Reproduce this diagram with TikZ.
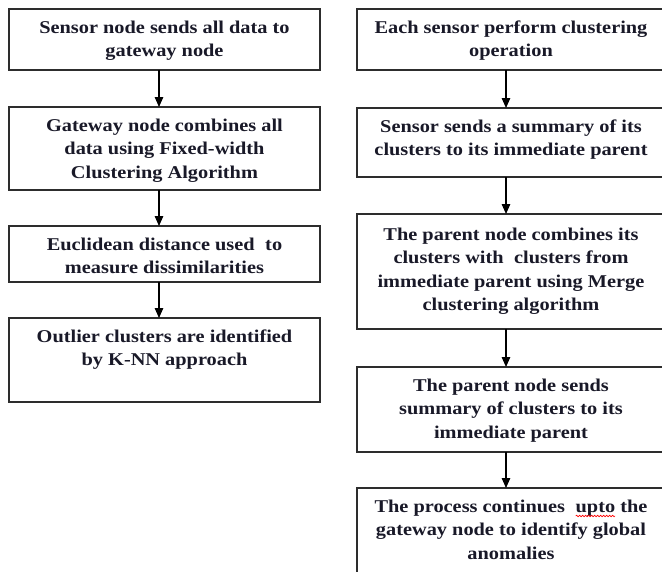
\documentclass[tikz,border=0pt]{standalone}
\usepackage{fontspec}
\setmainfont{Liberation Serif}[FakeStretch=1.13]
\usetikzlibrary{arrows.meta,calc,decorations.pathmorphing}
\definecolor{boxgray}{RGB}{45,45,45}
\definecolor{txtcol}{RGB}{25,25,40}
\newcommand{\dsp}{\hspace{0.3em}}
\newcommand{\boxfont}{\fontsize{18}{23.5}\selectfont\bfseries}
\newlength{\wline}\newlength{\wpre}\newlength{\wword}
\begin{document}
\settowidth{\wline}{\boxfont The process continues\dsp{} upto the}
\settowidth{\wpre}{\boxfont The process continues\dsp{} }
\settowidth{\wword}{\boxfont upto}
\begin{tikzpicture}[x=1pt,y=-1pt,
  box/.style={draw=boxgray, line width=1.5pt, inner sep=0pt, outer sep=0pt, rectangle},
  txt/.style={anchor=north, align=center, inner sep=0pt, text=txtcol, font=\boxfont},
  arr/.style={draw=black, line width=1.3pt, -{Triangle[length=10pt,width=8.5pt]}},
  wavy/.style={draw=red, line width=0.6pt, decorate, decoration={snake, amplitude=0.8pt, segment length=3pt}}]
\useasboundingbox (0,0) rectangle (662,571);
\clip (0,0) rectangle (662,571);
\fill[white] (0,0) rectangle (662,571);
\newcommand{\sr}{\rule{0pt}{13pt}}
% left column boxes
\node[box, minimum width=311pt, minimum height=61pt] (L1) at (164.5,39.5) {};
\node[box, minimum width=311pt, minimum height=83pt] (L2) at (164.5,148.5) {};
\node[box, minimum width=311pt, minimum height=56pt] (L3) at (164.5,254) {};
\node[box, minimum width=311pt, minimum height=84pt] (L4) at (164.5,360) {};
% right column boxes
\node[box, minimum width=311pt, minimum height=61pt] (R1) at (512.5,39.5) {};
\node[box, minimum width=311pt, minimum height=69pt] (R2) at (512.5,142.5) {};
\node[box, minimum width=311pt, minimum height=115pt] (R3) at (512.5,271.5) {};
\node[box, minimum width=311pt, minimum height=85pt] (R4) at (512.5,409.5) {};
\node[box, minimum width=311pt, minimum height=110pt] (R5) at (512.5,543) {};
% texts
\node[txt] (L1t) at ($(L1.north)+(0,11)$) {\sr Sensor node sends all data to\\gateway node};
\node[txt] (L2t) at ($(L2.north)+(0,11)$) {\sr Gateway node combines all\\data using Fixed-width\\Clustering Algorithm};
\node[txt] (L3t) at ($(L3.north)+(0,11)$) {\sr Euclidean distance used\dsp{} to\\measure dissimilarities};
\node[txt] (L4t) at ($(L4.north)+(0,11)$) {\sr Outlier clusters are identified\\by K-NN approach};
\node[txt] (R1t) at ($(R1.north)+(-1.5,11)$) {\sr Each sensor perform clustering\\operation};
\node[txt] (R2t) at ($(R2.north)+(-1.5,11)$) {\sr Sensor sends a summary of its\\clusters to its immediate parent};
\node[txt] (R3t) at ($(R3.north)+(-1.5,13)$) {\sr The parent node combines its\\clusters with\dsp{} clusters from\\immediate parent using Merge\\clustering algorithm};
\node[txt] (R4t) at ($(R4.north)+(-1.5,11)$) {\sr The parent node sends\\summary of clusters to its\\immediate parent};
\node[txt] (R5t) at ($(R5.north)+(-1.5,11)$) {\sr The process continues\dsp{} upto the\\gateway node to identify global\\anomalies};
% connectors
\coordinate (lx) at (159,0);
\coordinate (rx) at (506,0);
\draw[arr] (L1.south -| lx) -- (L2.north -| lx);
\draw[arr] (L2.south -| lx) -- (L3.north -| lx);
\draw[arr] (L3.south -| lx) -- (L4.north -| lx);
\draw[arr] (R1.south -| rx) -- (R2.north -| rx);
\draw[arr] (R2.south -| rx) -- (R3.north -| rx);
\draw[arr] (R3.south -| rx) -- (R4.north -| rx);
\draw[arr] (R4.south -| rx) -- (R5.north -| rx);
% spell-check underline under "upto"
\pgfmathsetmacro{\ua}{511 - 0.5*\wline + \wpre}
\pgfmathsetmacro{\ub}{\ua + \wword}
\coordinate (u1) at (\ua,516);
\coordinate (u2) at (\ub,516);
\draw[wavy] (u1) -- (u2);
\end{tikzpicture}
\end{document}
